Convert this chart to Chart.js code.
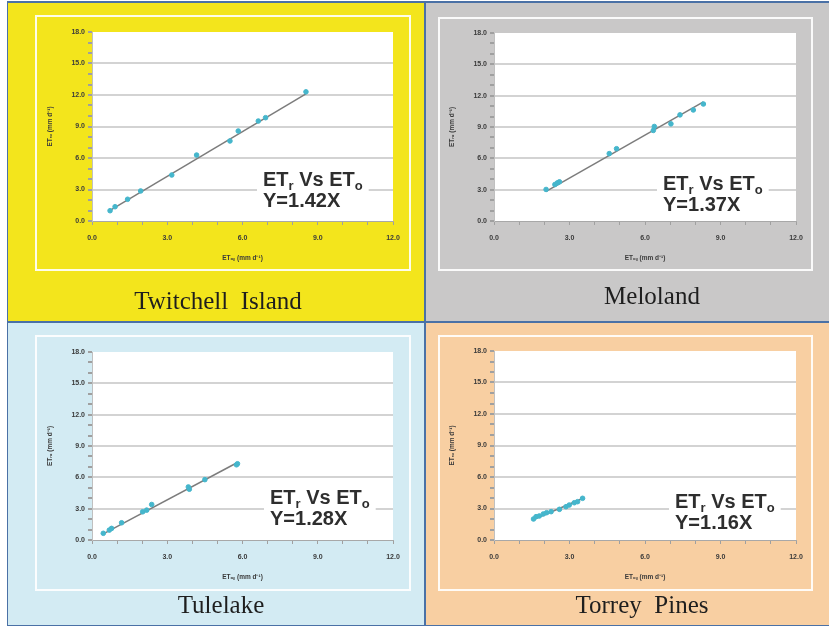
<!DOCTYPE html>
<html>
<head>
<meta charset="utf-8">
<script src="https://cdn.jsdelivr.net/npm/chart.js@4.4.0/dist/chart.umd.min.js"></script>
<style>
  body { margin: 0; background: #fff; width: 829px; height: 627px; overflow: hidden; }
  .frame { position: absolute; left: 7px; top: 1px; width: 822px; height: 625px; background: #4a71a6; }
  .panel { position: absolute; }
  .box { position: absolute; border: 2px solid rgba(255,255,255,0.9); box-sizing: border-box; }
  canvas { position: absolute; }
  .title { position: absolute; width: 300px; text-align: center; font-family: "Liberation Serif", "Times New Roman", serif;
           font-size: 25px; line-height: 25px; color: #1e1e1e; white-space: pre; }
</style>
</head>
<body>
<div class="frame"></div>

<div class="panel" style="left:8px;top:3px;width:416px;height:318px;background:#f3e51c"></div>
<div class="panel" style="left:426px;top:3px;width:403px;height:318px;background:#c9c8c8"></div>
<div class="panel" style="left:8px;top:323px;width:416px;height:302px;background:#d3ebf3"></div>
<div class="panel" style="left:426px;top:323px;width:403px;height:302px;background:#f8cfa2"></div>

<div class="box" style="left:35px;top:15px;width:376px;height:256px"></div>
<div class="box" style="left:438px;top:17px;width:375px;height:254px"></div>
<div class="box" style="left:35px;top:335px;width:376px;height:256px"></div>
<div class="box" style="left:438px;top:335px;width:375px;height:256px"></div>

<canvas id="c1" width="416" height="318" style="left:8px;top:3px"></canvas>
<canvas id="c2" width="403" height="318" style="left:426px;top:3px"></canvas>
<canvas id="c3" width="416" height="302" style="left:8px;top:323px"></canvas>
<canvas id="c4" width="403" height="302" style="left:426px;top:323px"></canvas>

<div class="title" style="left:68px;top:288px">Twitchell  Island</div>
<div class="title" style="left:502px;top:283px">Meloland</div>
<div class="title" style="left:71px;top:592px">Tulelake</div>
<div class="title" style="left:492px;top:592px">Torrey  Pines</div>

<script>
// Twitchell Island
const twitchellX = [0.72, 0.92, 1.42, 1.94, 3.18, 4.17, 5.50, 5.83, 6.63, 6.92, 8.53];
const twitchellY = [0.98, 1.36, 2.07, 2.86, 4.38, 6.28, 7.62, 8.57, 9.52, 9.84, 12.30];
const twitchellFitX = [0.72, 8.53];
const twitchellFitY = [1.02, 12.11];

// Meloland
const melolandX = [2.07, 2.42, 2.52, 2.60, 4.58, 4.87, 6.33, 6.37, 7.03, 7.39, 7.92, 8.32];
const melolandY = [3.02, 3.49, 3.65, 3.75, 6.45, 6.92, 8.67, 9.05, 9.30, 10.16, 10.63, 11.20];
const melolandFitX = [2.07, 8.32];
const melolandFitY = [2.84, 11.40];

// Tulelake
const tulelakeX = [0.45, 0.69, 0.78, 1.18, 2.02, 2.18, 2.38, 3.84, 3.88, 4.50, 5.76, 5.80];
const tulelakeY = [0.64, 0.95, 1.11, 1.65, 2.70, 2.86, 3.40, 5.08, 4.86, 5.78, 7.20, 7.30];
const tulelakeFitX = [0.45, 5.80];
const tulelakeFitY = [0.58, 7.42];

// Torrey Pines
const torreyX = [1.57, 1.67, 1.80, 1.96, 2.09, 2.27, 2.60, 2.86, 2.99, 3.19, 3.32, 3.52];
const torreyY = [2.00, 2.22, 2.29, 2.48, 2.60, 2.70, 2.92, 3.17, 3.33, 3.55, 3.65, 3.97];
const torreyFitX = [1.57, 3.52];
const torreyFitY = [1.95, 3.95];

const equations = ['Y=1.42X', 'Y=1.37X', 'Y=1.28X', 'Y=1.16X'];
const xTitle = 'ETₒₛ (mm d⁻¹)';
const yTitle = 'ETᵣₒ (mm d⁻¹)';

function pairs(xs, ys) {
    return xs.map((v, i) => ({ x: v, y: ys[i] }));
}

// white plot area
const plotBg = {
    id: 'plotBg',
    beforeDraw(chart) {
        const a = chart.chartArea;
        const ctx = chart.ctx;
        ctx.save();
        ctx.fillStyle = '#ffffff';
        ctx.fillRect(a.left, a.top, a.right - a.left, a.bottom - a.top);
        ctx.restore();
    }
};

// "ETr Vs ETo / Y=..." label with white backing
const eqLabel = {
    id: 'eqLabel',
    afterDatasetsDraw(chart, args, opts) {
        const ctx = chart.ctx;
        const a = chart.chartArea;
        const x = a.left + opts.dx;
        const y1 = a.top + opts.dy;
        const y2 = y1 + 21;
        const big = 'bold 20px "Liberation Sans", Arial, sans-serif';
        const small = 'bold 13px "Liberation Sans", Arial, sans-serif';
        ctx.save();
        const parts = [['ET', big, 0], ['r', small, 4], [' Vs ET', big, 0], ['o', small, 4]];
        let w = 0;
        parts.forEach(p => { ctx.font = p[1]; w += ctx.measureText(p[0]).width; });
        ctx.fillStyle = '#ffffff';
        ctx.fillRect(x - 6, y1 - 20, w + 12, 48);
        ctx.fillStyle = '#2e2e2e';
        ctx.textBaseline = 'alphabetic';
        let cx = x;
        parts.forEach(p => {
            ctx.font = p[1];
            ctx.fillText(p[0], cx, y1 + p[2]);
            cx += ctx.measureText(p[0]).width;
        });
        ctx.font = big;
        ctx.fillText(opts.text, x, y2);
        ctx.restore();
    }
};

function makeChart(id, xs, ys, fx, fy, pad, eq) {
    const tickFont = { family: '"Liberation Sans", Arial, sans-serif', size: 7, weight: 'bold' };
    const titleFont = { family: '"Liberation Sans", Arial, sans-serif', size: 6.5, weight: 'bold' };
    return new Chart(document.getElementById(id), {
        type: 'scatter',
        data: {
            datasets: [
                {
                    data: pairs(fx, fy),
                    showLine: true,
                    borderColor: '#7c7c7c',
                    borderWidth: 1.5,
                    pointRadius: 0,
                    order: 2
                },
                {
                    data: pairs(xs, ys),
                    backgroundColor: '#45b6cc',
                    borderColor: '#45b6cc',
                    pointRadius: 2.3,
                    order: 1
                }
            ]
        },
        options: {
            responsive: false,
            devicePixelRatio: 1,
            animation: false,
            layout: { padding: pad },
            plugins: {
                legend: { display: false },
                tooltip: { enabled: false },
                eqLabel: eq
            },
            scales: {
                x: {
                    type: 'linear',
                    min: 0, max: 12,
                    afterFit: (s) => { s.height = 45; },
                    ticks: {
                        stepSize: 1, autoSkip: false, maxRotation: 0, padding: 9,
                        color: '#3a3a3a', font: tickFont,
                        callback: (v) => (v % 3 === 0 ? v.toFixed(1) : '')
                    },
                    grid: { color: 'rgba(0,0,0,0)', tickColor: '#a0a0a0', tickLength: 4 },
                    border: { color: '#a8a8a8', width: 1 },
                    title: { display: true, text: xTitle, color: '#3a3a3a', font: titleFont }
                },
                y: {
                    type: 'linear',
                    min: 0, max: 18,
                    afterFit: (s) => { s.width = 50; },
                    ticks: {
                        stepSize: 1, autoSkip: false, padding: 3,
                        color: '#3a3a3a', font: tickFont,
                        callback: (v) => (v % 3 === 0 ? v.toFixed(1) : '')
                    },
                    grid: {
                        lineWidth: 2,
                        color: (c) => (c.tick && c.tick.value % 3 === 0 && c.tick.value > 0 && c.tick.value < 18) ? '#d3d3d3' : 'rgba(0,0,0,0)',
                        tickColor: '#a0a0a0',
                        tickLength: 4
                    },
                    border: { color: '#c0c0c0', width: 1 },
                    title: { display: true, text: yTitle, color: '#3a3a3a', font: titleFont }
                }
            }
        },
        plugins: [plotBg, eqLabel]
    });
}

makeChart('c1', twitchellX, twitchellY, twitchellFitX, twitchellFitY,
    { left: 34, right: 31, top: 29, bottom: 55 }, { text: equations[0], dx: 171, dy: 154 });
makeChart('c2', melolandX, melolandY, melolandFitX, melolandFitY,
    { left: 18, right: 33, top: 30, bottom: 55 }, { text: equations[1], dx: 169, dy: 157 });
makeChart('c3', tulelakeX, tulelakeY, tulelakeFitX, tulelakeFitY,
    { left: 34, right: 31, top: 29, bottom: 40 }, { text: equations[2], dx: 178, dy: 152 });
makeChart('c4', torreyX, torreyY, torreyFitX, torreyFitY,
    { left: 18, right: 33, top: 28, bottom: 40 }, { text: equations[3], dx: 181, dy: 157 });
</script>
</body>
</html>
